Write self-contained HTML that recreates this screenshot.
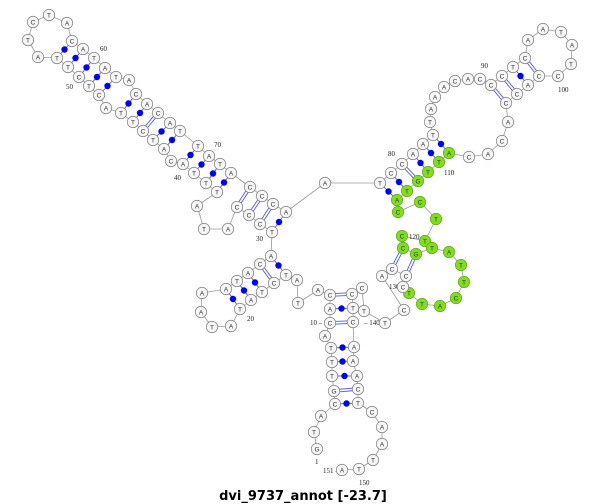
<!DOCTYPE html>
<html><head><meta charset="utf-8">
<style>
html,body{margin:0;padding:0;background:#fff;}
body{width:600px;height:504px;overflow:hidden;}
svg{display:block;}
.t{font-family:"Liberation Sans",sans-serif;font-size:6.5px;text-anchor:middle;fill:#333;}
.l{font-family:"Liberation Serif",serif;font-size:7px;fill:#222;}
</style></head><body>
<svg id="s" width="600" height="504" viewBox="0 0 600 504" xmlns="http://www.w3.org/2000/svg">
<text x="303" y="500" text-anchor="middle" style="font-family:'DejaVu Sans','Liberation Sans',sans-serif;font-weight:bold;font-size:13px;fill:#000">dvi_9737_annot [-23.7]</text>
</svg>
<script>
var N=[
[317,449,'G'],[314,432,'T'],[321,416,'A'],[335,404,'C'],[334,391,'G'],[332,376,'T'],[332,362,'T'],[331,348,'T'],[325,336,'A'],[330,323,'C'],
[330,309,'A'],[330,295,'C'],[318,290,'A'],[298,303,'T'],[297,280,'A'],[286,275,'T'],[274,283,'C'],[262,292,'T'],[251,300,'A'],[240,309,'T'],
[231,326,'A'],[212,327,'T'],[201,312,'A'],[202,293,'A'],[226,289,'A'],[237,281,'T'],[248,273,'A'],[260,264,'C'],[271,256,'A'],[272,232,'T'],
[260,224,'C'],[249,215,'C'],[237,207,'C'],[228,229,'A'],[204,229,'T'],[197,206,'A'],[217,192,'T'],[206,183,'T'],[194,173,'T'],[183,164,'A'],
[171,161,'C'],[164,149,'A'],[153,140,'T'],[143,131,'C'],[133,122,'T'],[121,113,'T'],[106,108,'A'],[99,95,'C'],[89,86,'T'],[79,77,'C'],
[68,67,'T'],[57,58,'T'],[38,57,'A'],[28,40,'T'],[33,22,'C'],[49,15,'T'],[67,23,'A'],[72,41,'C'],[83,49,'A'],[94,58,'T'],
[105,68,'A'],[116,77,'T'],[129,80,'A'],[136,94,'C'],[147,104,'A'],[158,113,'C'],[170,123,'A'],[180,131,'T'],[198,146,'T'],[209,156,'A'],
[220,164,'T'],[231,173,'A'],[250,187,'C'],[262,196,'C'],[273,204,'C'],[286,212,'A'],[325,183,'A'],[380,183,'T'],[391,173,'C'],[402,164,'C'],
[413,154,'A'],[423,144,'A'],[433,135,'T'],[430,122,'T'],[431,109,'A'],[435,97,'A'],[444,87,'A'],[455,81,'C'],[468,79,'A'],[480,79,'C'],
[491,85,'C'],[502,76,'C'],[513,67,'T'],[525,58,'C'],[528,40,'A'],[543,29,'A'],[561,32,'T'],[572,45,'A'],[571,64,'T'],[558,76,'C'],
[539,76,'C'],[528,85,'A'],[517,94,'C'],[506,103,'C'],[508,122,'A'],[502,141,'C'],[488,154,'A'],[469,157,'C'],[449,153,'A'],[439,162,'T'],
[428,172,'T'],[418,181,'G'],[407,191,'T'],[397,200,'A'],[398,212,'C'],[420,202,'C'],[436,219,'T'],[425,241,'T'],[402,236,'C'],[403,248,'C'],
[416,254,'G'],[432,248,'T'],[449,252,'A'],[461,265,'T'],[464,282,'T'],[456,298,'C'],[440,306,'A'],[422,304,'T'],[409,293,'T'],[403,287,'C'],
[406,276,'C'],[392,269,'C'],[382,276,'A'],[404,310,'C'],[385,323,'T'],[364,311,'T'],[362,288,'C'],[352,294,'C'],[353,308,'T'],[353,322,'C'],
[354,347,'A'],[353,361,'A'],[357,376,'A'],[358,389,'C'],[358,403,'T'],[372,412,'C'],[382,427,'A'],[382,444,'A'],[373,460,'T'],[359,469,'T'],
[342,470,'A']];
var P=[[12,138,1],[11,139,0],[10,140,1],[8,141,0],[7,142,0],[6,143,0],[5,144,1],[4,145,0],
[16,29,0],[17,28,1],[18,27,0],[19,26,0],[20,25,0],
[30,76,0],[31,75,1],[32,74,1],[33,73,1],[37,72,0],[38,71,0],[39,70,0],[40,69,0],[42,68,0],[43,67,0],[44,66,1],[45,65,0],[46,64,0],[48,62,0],[49,61,0],[50,60,0],[51,59,0],[52,58,0],
[78,114,0],[79,113,0],[80,112,1],[81,111,0],[82,110,0],[83,109,0],
[91,104,1],[92,103,1],[93,102,0],[94,101,1],[120,132,1],[121,131,1]];
var L=[[10,"10 \u2013",310,325],[140,"\u2013 140",364,325],[130,"130",389,289],[120,"120",409,239],[110,"110",444,175],[100,"100",558,92],[90,"90",481,68],[80,"80",388,156],[70,"70",214,147],[60,"60",100,51],[50,"50",66,89],[40,"40",174,180],[30,"30",256,241],[20,"20",247,321],[1,"1",315,464],[151,"151 \u2013",323,473],[150,"150",359,485]];
var s=document.getElementById('s'),h='';
function g(i){return N[i-1];}
for(var i=0;i<N.length-1;i++)h+='<line x1="'+N[i][0]+'" y1="'+N[i][1]+'" x2="'+N[i+1][0]+'" y2="'+N[i+1][1]+'" stroke="#999" stroke-width="0.8"/>';
P.forEach(function(p){var a=g(p[0]),b=g(p[1]);var dx=b[0]-a[0],dy=b[1]-a[1],d=Math.sqrt(dx*dx+dy*dy);var ux=dx/d,uy=dy/d;
var x1=a[0]+ux*5.5,y1=a[1]+uy*5.5,x2=b[0]-ux*5.5,y2=b[1]-uy*5.5;
if(p[2]){var ox=-uy*1.3,oy=ux*1.3;h+='<line x1="'+(x1+ox)+'" y1="'+(y1+oy)+'" x2="'+(x2+ox)+'" y2="'+(y2+oy)+'" stroke="#5555ee" stroke-width="0.9"/><line x1="'+(x1-ox)+'" y1="'+(y1-oy)+'" x2="'+(x2-ox)+'" y2="'+(y2-oy)+'" stroke="#5555ee" stroke-width="0.9"/>';}
else{h+='<line x1="'+x1+'" y1="'+y1+'" x2="'+x2+'" y2="'+y2+'" stroke="#5555ee" stroke-width="0.9"/><circle cx="'+(a[0]+b[0])/2+'" cy="'+(a[1]+b[1])/2+'" r="3.2" fill="#0000ff"/>';}
});
L.forEach(function(l){h+='<text class="l" x="'+l[2]+'" y="'+l[3]+'">'+l[1]+'</text>';});
N.forEach(function(n,i){var k=i+1,gr=(k>=109&&k<=129);
h+='<circle cx="'+n[0]+'" cy="'+n[1]+'" r="5.7" fill="'+(gr?'#7fe01a':'#f6f6f6')+'" stroke="'+(gr?'#6aa830':'#888')+'" stroke-width="0.8"/><text class="t" x="'+n[0]+'" y="'+(n[1]+2.3)+'">'+n[2]+'</text>';});
s.insertAdjacentHTML('afterbegin',h);
</script>
</body></html>
